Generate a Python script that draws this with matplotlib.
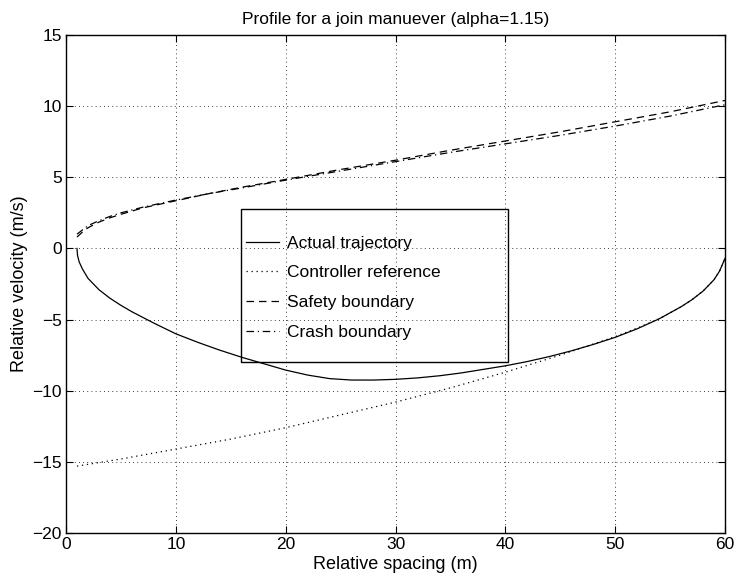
import matplotlib
matplotlib.use("Agg")
import matplotlib.pyplot as plt
from matplotlib.patches import Rectangle

plt.rcParams['font.family'] = ['Liberation Sans', 'DejaVu Sans']

# Actual trajectory
act_x = [1.0, 1.05, 1.2, 1.5, 2, 3, 4, 5, 6, 8, 10, 12, 14, 16, 18, 20, 22, 24, 26,
         28, 30, 32, 34, 36, 38, 40, 42, 44, 46, 48, 50, 52, 54, 56, 57, 58, 59, 59.5, 60]
act_y = [0, -0.5, -0.95, -1.45, -2.1, -2.9, -3.5, -4.0, -4.45, -5.25, -6.0, -6.6, -7.15,
         -7.65, -8.1, -8.55, -8.9, -9.15, -9.25, -9.25, -9.2, -9.1, -8.95, -8.75, -8.5,
         -8.25, -7.95, -7.6, -7.2, -6.75, -6.25, -5.65, -4.95, -4.1, -3.6, -3.0, -2.2,
         -1.6, -0.7]

# Controller reference
ref_x = [1, 5, 10, 15, 20, 25, 30, 35, 40, 45, 50, 52, 54, 56, 57, 58, 59, 59.5, 60]
ref_y = [-15.3, -14.8, -14.1, -13.4, -12.6, -11.7, -10.8, -9.8, -8.7, -7.5, -6.2,
         -5.6, -4.95, -4.1, -3.6, -3.0, -2.2, -1.6, -0.7]

# Safety boundary
saf_x = [1, 1.5, 2, 3, 4, 5, 7, 10, 13, 16, 20, 25, 30, 35, 40, 45, 50, 55, 60]
saf_y = [0.8, 1.15, 1.45, 1.85, 2.15, 2.4, 2.85, 3.35, 3.85, 4.3, 4.85, 5.55, 6.2, 6.9,
         7.55, 8.2, 8.9, 9.6, 10.4]

# Crash boundary
cr_x = [1, 1.5, 2, 3, 4, 5, 7, 10, 13, 16, 20, 25, 30, 35, 40, 45, 50, 55, 60]
cr_y = [1.0, 1.3, 1.6, 1.95, 2.25, 2.5, 2.9, 3.4, 3.85, 4.25, 4.8, 5.45, 6.1, 6.75,
        7.35, 7.95, 8.6, 9.3, 10.1]

xticks = [0, 10, 20, 30, 40, 50, 60]
yticks = [-20, -15, -10, -5, 0, 5, 10, 15]

fig = plt.figure(figsize=(7.36, 5.8), dpi=100)
L, R, T, B = 66, 725, 35, 533
ax = fig.add_axes([L/736, (580-B)/580, (R-L)/736, (B-T)/580])

ax.plot(act_x, act_y, color='black', lw=0.9, ls='-', label='Actual trajectory')
ax.plot(ref_x, ref_y, color='black', lw=0.9, ls=(0, (1, 3)), label='Controller reference')
ax.plot(saf_x, saf_y, color='black', lw=0.9, ls=(0, (6, 4)), label='Safety boundary')
ax.plot(cr_x, cr_y, color='black', lw=0.9, ls=(0, (6, 3, 1, 3)), label='Crash boundary')

ax.set_xlim(0, 60)
ax.set_ylim(-20, 15)
ax.set_xticks(xticks)
ax.set_yticks(yticks)
ax.tick_params(direction='in', length=5, width=0.8, top=True, right=True,
               labelsize=12.5, pad=3)
ax.grid(True, color='black', ls=(0, (1, 4)), lw=0.6)
for s in ax.spines.values():
    s.set_linewidth(1.0)

ax.set_title('Profile for a join manuever (alpha=1.15)', fontsize=12.5, pad=8)
ax.set_xlabel('Relative spacing (m)', fontsize=13, labelpad=3)
ax.set_ylabel('Relative velocity (m/s)', fontsize=13, labelpad=3)

W = R - L
H = B - T
leg = ax.legend(loc='upper left', bbox_to_anchor=((246.5 - L) / W, (B - 235.5) / H),
                borderaxespad=0, fontsize=12.5, labelspacing=0.84,
                borderpad=0, handlelength=1.9, handletextpad=0.46, frameon=False)
ax.add_patch(Rectangle(((241 - L) / W, (B - 362) / H), (508 - 241) / W, (362 - 209) / H,
                       transform=ax.transAxes, fill=False, edgecolor='black',
                       lw=1.0, zorder=5))

fig.savefig('out.png', dpi=100)
